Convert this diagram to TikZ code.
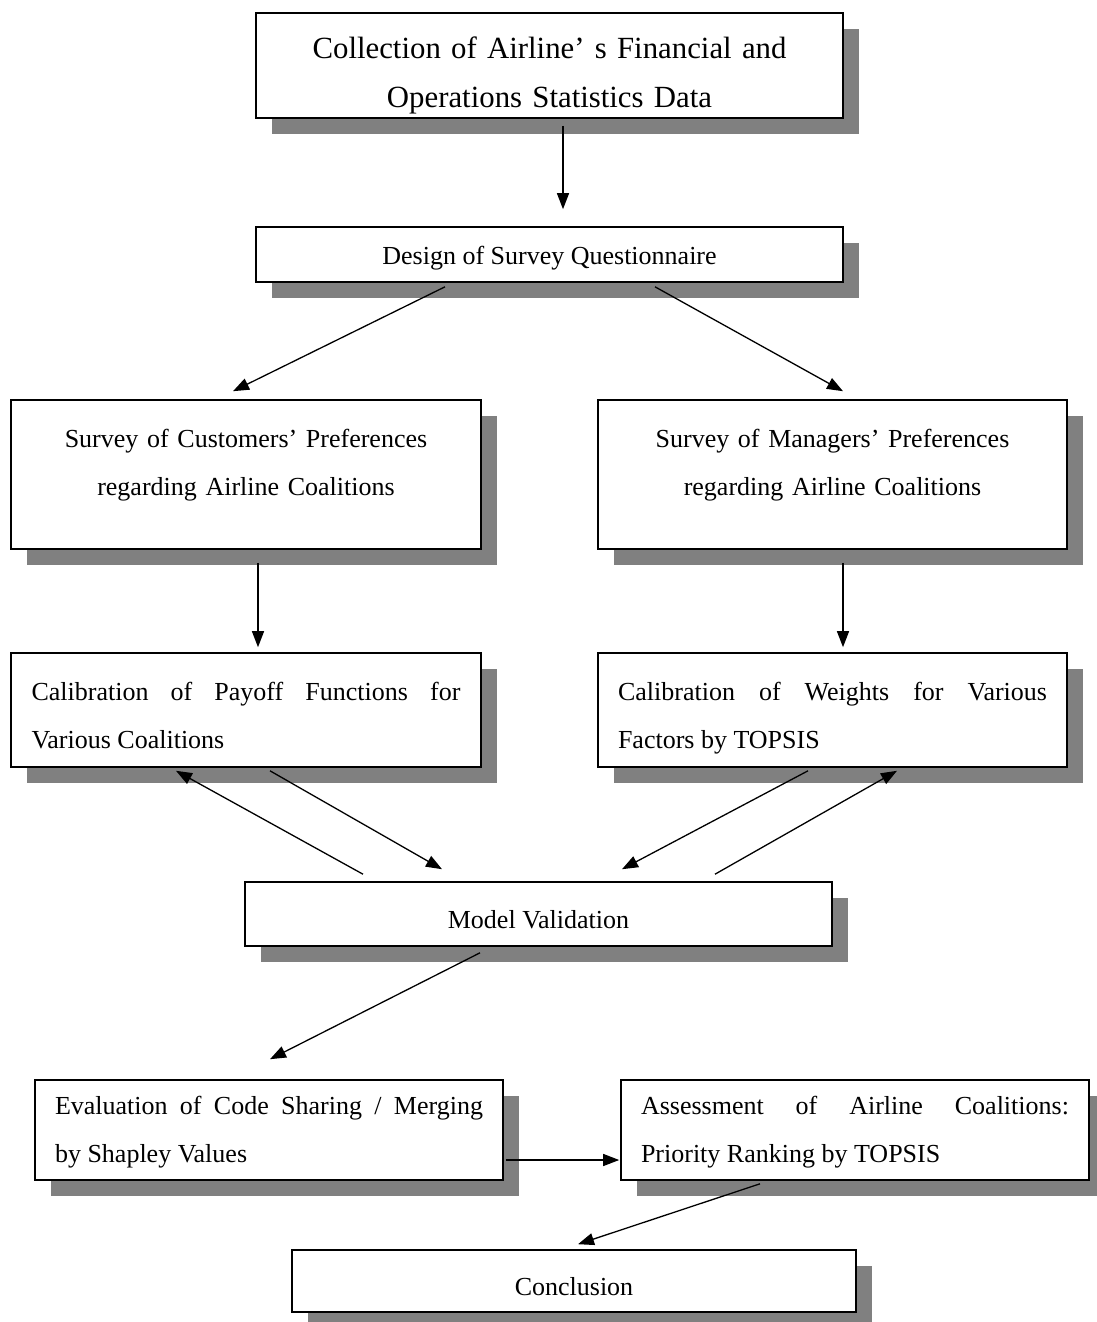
\documentclass[tikz,border=0pt]{standalone}
\usepackage{fontspec}
\setmainfont{Liberation Serif}
\usetikzlibrary{arrows.meta,shadows,positioning}

\begin{document}
\begin{tikzpicture}[x=1pt, y=-1pt,
    flowbox/.style={draw, rectangle, line width=1.6pt, fill=white, inner sep=0pt,
      drop shadow={shadow xshift=16pt, shadow yshift=-16pt, fill=black!50, opacity=1},
      font=\fontsize{26}{48}\selectfont},
    arr/.style={-{Triangle[length=16pt,width=12pt]}, line width=1.3pt}]

    \useasboundingbox (0,0) rectangle (1096,1322);

    % Nodes
    \node [flowbox, minimum width=587pt, minimum height=105pt, text width=570pt, align=center,
      text height=42pt, text depth=56pt, font=\fontsize{30.8}{49}\selectfont] (data) at (549.5,65.5)
      {Collection of Airline’ s Financial and\\Operations Statistics Data};
    \node [flowbox, below of=data, node distance=189pt, minimum width=587pt, minimum height=55pt,
      text height=19pt, text depth=0pt] (design)
      {Design of Survey Questionnaire};
    \node [flowbox, minimum width=470pt, minimum height=149pt, text width=430pt, align=center,
      text height=25pt, text depth=80pt] (cust) at (246,474.5)
      {Survey of Customers’ Preferences\\regarding Airline Coalitions};
    \node [flowbox, right of=cust, node distance=586.5pt, minimum width=469pt, minimum height=149pt,
      text width=430pt, align=center, text height=25pt, text depth=80pt] (mgr)
      {Survey of Managers’ Preferences\\regarding Airline Coalitions};
    \node [flowbox, below of=cust, node distance=235.5pt, minimum width=470pt, minimum height=114pt,
      text width=429pt, align=justify, text height=34pt, text depth=54pt] (payoff)
      {Calibration of Payoff Functions for\linebreak Various Coalitions};
    \node [flowbox, below of=mgr, node distance=235.5pt, minimum width=469pt, minimum height=114pt,
      text width=429pt, align=justify, text height=34pt, text depth=54pt] (weight)
      {Calibration of Weights for Various\linebreak Factors by TOPSIS};
    \node [flowbox, minimum width=587pt, minimum height=64pt, text height=28pt, text depth=0pt] (valid)
      at (538.5,914) {Model Validation};
    \node [flowbox, minimum width=468pt, minimum height=100pt, text width=428pt, align=justify,
      text height=22pt, text depth=54pt] (shapley)
      at (269,1130) {Evaluation of Code Sharing / Merging\linebreak by Shapley Values};
    \node [flowbox, right of=shapley, node distance=586pt, minimum width=468pt, minimum height=100pt,
      text width=428pt, align=justify, text height=22pt, text depth=54pt] (assess)
      {Assessment of Airline Coalitions:\linebreak Priority Ranking by TOPSIS};
    \node [flowbox, minimum width=564pt, minimum height=62pt, text height=28pt, text depth=0pt] (concl)
      at (574,1281) {Conclusion};

    % Arrows
    \draw[arr] ([xshift=13.5pt, yshift=-7pt]data.south) -- ([xshift=13.5pt, yshift=17pt]design.north);
    \draw[arr] ([xshift=-104.5pt, yshift=-4pt]design.south) -- ([xshift=-13pt, yshift=8pt]cust.north);
    \draw[arr] ([xshift=105.5pt, yshift=-4pt]design.south) -- ([xshift=10.5pt, yshift=8pt]mgr.north);
    \draw[arr] ([xshift=12pt, yshift=-13pt]cust.south) -- ([xshift=12pt, yshift=5pt]payoff.north);
    \draw[arr] ([xshift=10.5pt, yshift=-13pt]mgr.south) -- ([xshift=10.5pt, yshift=5pt]weight.north);
    \draw[arr] ([xshift=24pt, yshift=-3pt]payoff.south) -- ([xshift=-96.5pt, yshift=12pt]valid.north);
    \draw[arr] ([xshift=-175.5pt, yshift=7pt]valid.north) -- ([xshift=-70pt, yshift=-3pt]payoff.south);
    \draw[arr] ([xshift=-24.5pt, yshift=-3pt]weight.south) -- ([xshift=83.5pt, yshift=12pt]valid.north);
    \draw[arr] ([xshift=176.5pt, yshift=7pt]valid.north) -- ([xshift=64.5pt, yshift=-3pt]weight.south);
    \draw[arr] ([xshift=-58.5pt, yshift=-6pt]valid.south) -- ([xshift=1pt, yshift=20pt]shapley.north);
    \draw[arr] ([xshift=2pt, yshift=-30pt]shapley.east) -- ([xshift=-1pt, yshift=-30pt]assess.west);
    \draw[arr] ([xshift=-95pt, yshift=-3pt]assess.south) -- ([xshift=4pt, yshift=5pt]concl.north);

\end{tikzpicture}
\end{document}
